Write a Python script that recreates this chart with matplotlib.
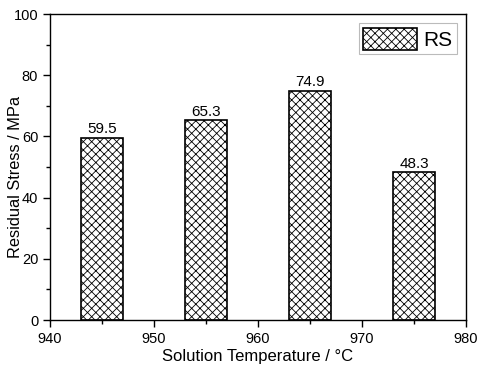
import matplotlib
matplotlib.use('Agg')
import matplotlib.pyplot as plt
from matplotlib.ticker import MultipleLocator

plt.rcParams['font.family'] = ['Liberation Sans', 'DejaVu Sans']
plt.rcParams['hatch.linewidth'] = 0.6

# 数据
temps = [945, 955, 965, 975]
stress = [59.5, 65.3, 74.9, 48.3]
labels = ['59.5', '65.3', '74.9', '48.3']

fig = plt.figure(figsize=(4.88, 3.73), dpi=100)
ax = fig.add_axes([50/488, 1-320/373, 416/488, 306/373])

bars = ax.bar(temps, stress, width=4, color='white', edgecolor='black',
              linewidth=1.2, hatch='xxxx', label='RS')
for b, s in zip(bars, labels):
    ax.text(b.get_x() + b.get_width()/2, b.get_height() + 0.5, s,
            ha='center', va='bottom', fontsize=11)

ax.set_xlim(940, 980)
ax.set_ylim(0, 100)
ax.xaxis.set_major_locator(MultipleLocator(10))
ax.xaxis.set_minor_locator(MultipleLocator(5))
ax.yaxis.set_major_locator(MultipleLocator(20))
ax.yaxis.set_minor_locator(MultipleLocator(10))
ax.tick_params(which='major', direction='out', length=5, width=1, labelsize=10.5)
ax.tick_params(which='minor', direction='out', length=3, width=1)
for sp in ax.spines.values():
    sp.set_linewidth(1)

ax.set_xlabel('Solution Temperature / °C', fontsize=12, labelpad=2)
ax.set_ylabel('Residual Stress / MPa', fontsize=11.8)
ax.yaxis.set_label_coords(-0.066, 0.466)

leg = ax.legend(loc='upper right', fontsize=15, fancybox=False,
                handlelength=2.6, handleheight=1.3, borderpad=0.2,
                handletextpad=0.3, borderaxespad=0.45)
leg.get_frame().set_edgecolor('#aaaaaa')
leg.get_frame().set_linewidth(0.8)

fig.savefig('out.png', dpi=100)
